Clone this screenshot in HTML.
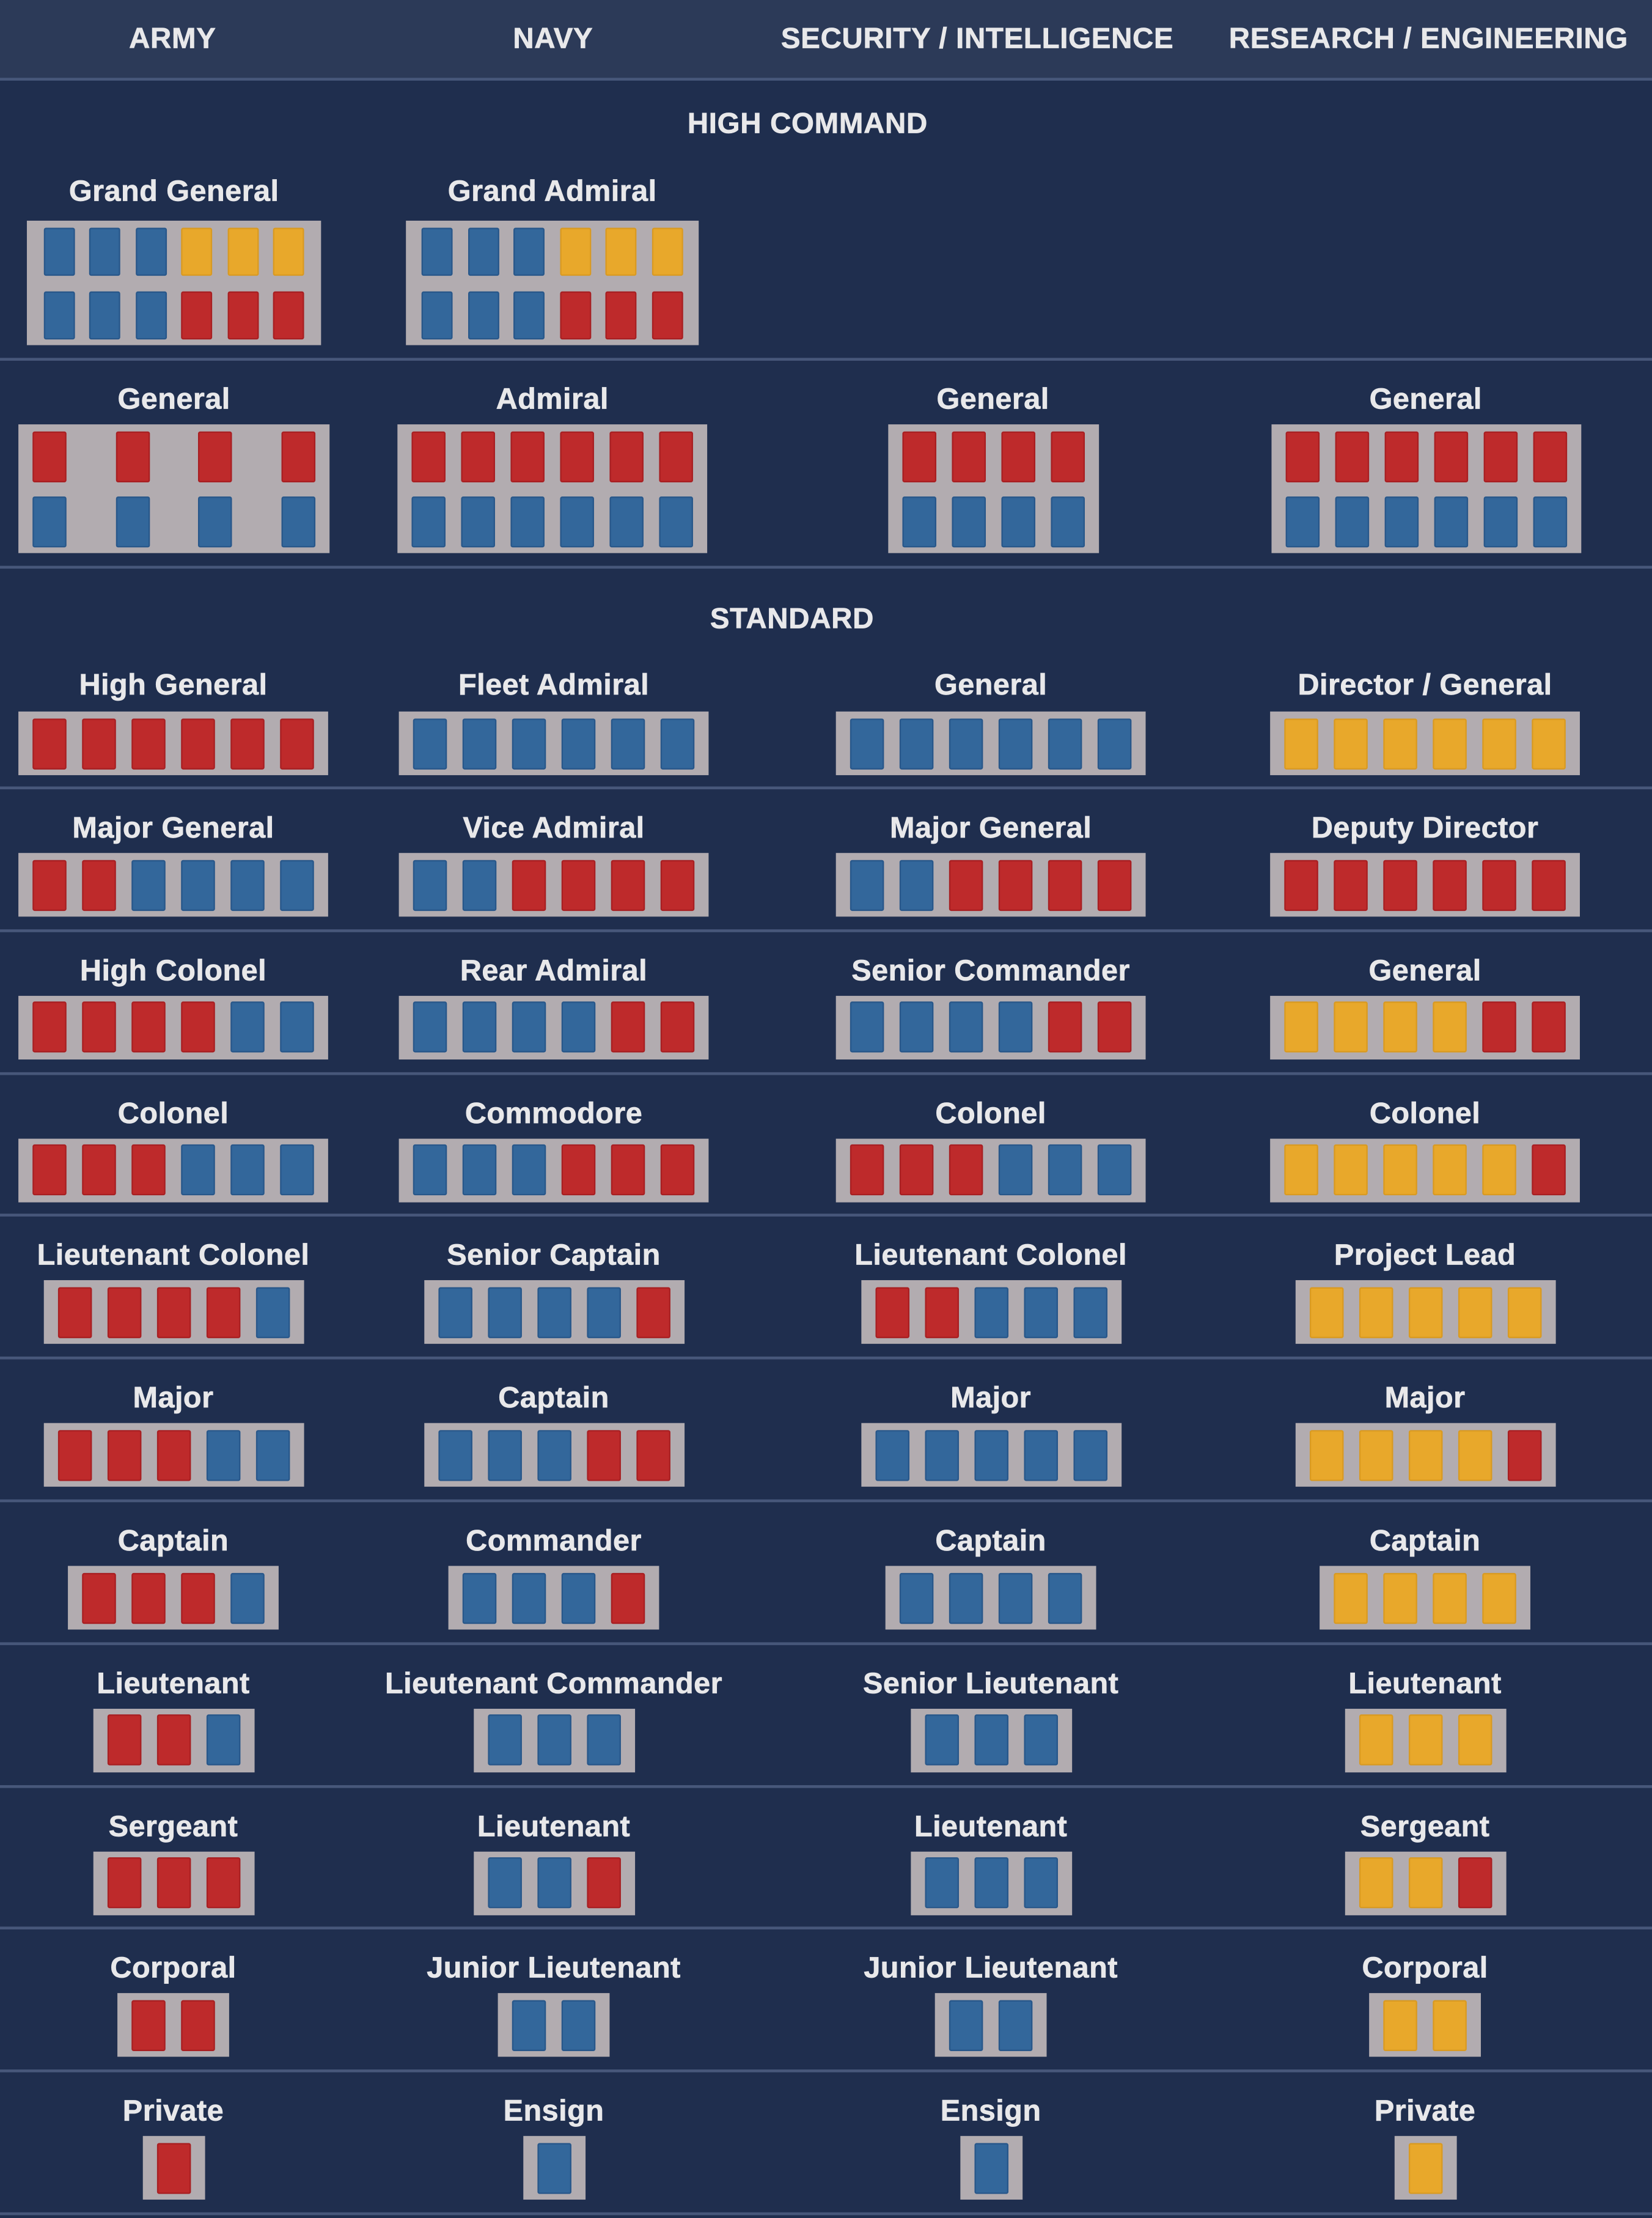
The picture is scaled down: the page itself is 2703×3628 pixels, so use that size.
<!DOCTYPE html>
<html><head><meta charset="utf-8">
<style>
html,body{margin:0;padding:0;background:#1f2e4e;overflow:hidden}
#stage{position:absolute;left:0;top:0;width:1168px;height:1568px;background:#1f2e4e;transform-origin:0 0;transform:scale(2.31421,2.31378);font-family:"Liberation Sans",sans-serif;font-weight:bold;color:#e8e8ea}
.t{position:absolute;white-space:nowrap;transform:translate(-50%,-50%);font-size:21px;line-height:24px;letter-spacing:0.2px;-webkit-text-stroke:0.3px #e8e8ea}
.h{font-size:20.5px;letter-spacing:0.3px}
.box{position:absolute;background:#b2acb0;box-sizing:border-box}
.pip{position:absolute;box-sizing:border-box;border-radius:1.5px}
.B{background:#33679b;border:1px solid #28578a}
.R{background:#be2a2b;border:1px solid #a81f22}
.Y{background:#e8a82b;border:1px solid #d99a22}
.div{position:absolute;left:0;width:1168px;height:2px;background:#47577a}
</style></head><body>
<div id="stage">
<div style="position:absolute;left:0;top:0;width:1168px;height:55px;background:#2c3a58"></div>
<div class="div" style="top:55px"></div>
<div class="t h" style="left:122px;top:28px">ARMY</div>
<div class="t h" style="left:391px;top:28px">NAVY</div>
<div class="t h" style="left:691px;top:28px">SECURITY / INTELLIGENCE</div>
<div class="t h" style="left:1010px;top:28px">RESEARCH / ENGINEERING</div>
<div class="t h" style="left:571px;top:88px">HIGH COMMAND</div>
<div class="div" style="top:253px"></div>
<div class="div" style="top:400px"></div>
<div class="t h" style="left:560px;top:438px">STANDARD</div>
</div>
<script>
const colCenters=[122.5,391.5,700.5,1007.5];
const grandLabels=["Grand General","Grand Admiral"];
const grandTop=["BBBYYY","BBBYYY"];
const grandBottom=["BBBRRR","BBBRRR"];
const genLabels=["General","Admiral","General","General"];
const genTop=["RRRR","RRRRRR","RRRR","RRRRRR"];
const genBottom=["BBBB","BBBBBB","BBBB","BBBBBB"];
const armyLabels=["High General","Major General","High Colonel","Colonel","Lieutenant Colonel","Major","Captain","Lieutenant","Sergeant","Corporal","Private"];
const armyPips=["RRRRRR","RRBBBB","RRRRBB","RRRBBB","RRRRB","RRRBB","RRRB","RRB","RRR","RR","R"];
const navyLabels=["Fleet Admiral","Vice Admiral","Rear Admiral","Commodore","Senior Captain","Captain","Commander","Lieutenant Commander","Lieutenant","Junior Lieutenant","Ensign"];
const navyPips=["BBBBBB","BBRRRR","BBBBRR","BBBRRR","BBBBR","BBBRR","BBBR","BBB","BBR","BB","B"];
const secLabels=["General","Major General","Senior Commander","Colonel","Lieutenant Colonel","Major","Captain","Senior Lieutenant","Lieutenant","Junior Lieutenant","Ensign"];
const secPips=["BBBBBB","BBRRRR","BBBBRR","RRRBBB","RRBBB","BBBBB","BBBB","BBB","BBB","BB","B"];
const resLabels=["Director / General","Deputy Director","General","Colonel","Project Lead","Major","Captain","Lieutenant","Sergeant","Corporal","Private"];
const resPips=["YYYYYY","RRRRRR","YYYYRR","YYYYYR","YYYYY","YYYYR","YYYY","YYY","YYR","YY","Y"];

const stage=document.getElementById('stage');
function label(txt,cx,cy){
  const d=document.createElement('div');d.className='t';
  
  
  d.style.left=cx+'px';d.style.top=cy+'px';d.textContent=txt;stage.appendChild(d);
}
function box(rows,cx,top,pw,gap,pad,ph,rgap,spread,fixedW){
  const n=rows[0].length;
  const w=fixedW||(2*pad+n*pw+(n-1)*gap);
  const h=rows.length*ph+(rows.length-1)*rgap+9;
  const b=document.createElement('div');b.className='box';
  
  
  b.style.left=(cx-w/2)+'px';b.style.top=top+'px';b.style.width=w+'px';b.style.height=h+'px';
  rows.forEach((r,ri)=>{
    const step=spread&&n>1?(w-2*pad-pw)/(n-1):pw+gap;
    [...r].forEach((c,i)=>{
      const p=document.createElement('div');p.className='pip '+c;
      
      
      p.style.left=(pad+i*step)+'px';p.style.top=(4.5+ri*(ph+rgap))+'px';
      p.style.width=pw+'px';p.style.height=ph+'px';b.appendChild(p);
    });
  });
  stage.appendChild(b);
}
grandLabels.forEach((l,i)=>{
  const cx=[123,390.5][i];
  label(l,cx,136);
  box([grandTop[i],grandBottom[i]],cx,156,22,10.5,11.5,34,11,false);
});
genLabels.forEach((l,i)=>{
  const cx=[123,390.5,702,1008][i];
  label(l,cx,283);
  const spread=(i===0);
  box([genTop[i],genBottom[i]],cx,300,24,11,10,36,10,spread,spread?220:null);
});
const cols=[[armyLabels,armyPips],[navyLabels,navyPips],[secLabels,secPips],[resLabels,resPips]];
for(let r=0;r<11;r++){
  const dTop=r===0?456:(557+(r-1)*100.8);
  const ly=r===0?485:dTop+29;
  const by=r===0?503:dTop+46;
  cols.forEach((c,ci)=>{
    label(c[0][r],colCenters[ci],ly);
    box([c[1][r]],colCenters[ci],by,24,11,10,36,0,false);
  });
  const dv=document.createElement('div');dv.className='div';
  
  
  dv.style.top=(557+r*100.8-1)+'px';stage.appendChild(dv);
}
</script>
</body></html>
